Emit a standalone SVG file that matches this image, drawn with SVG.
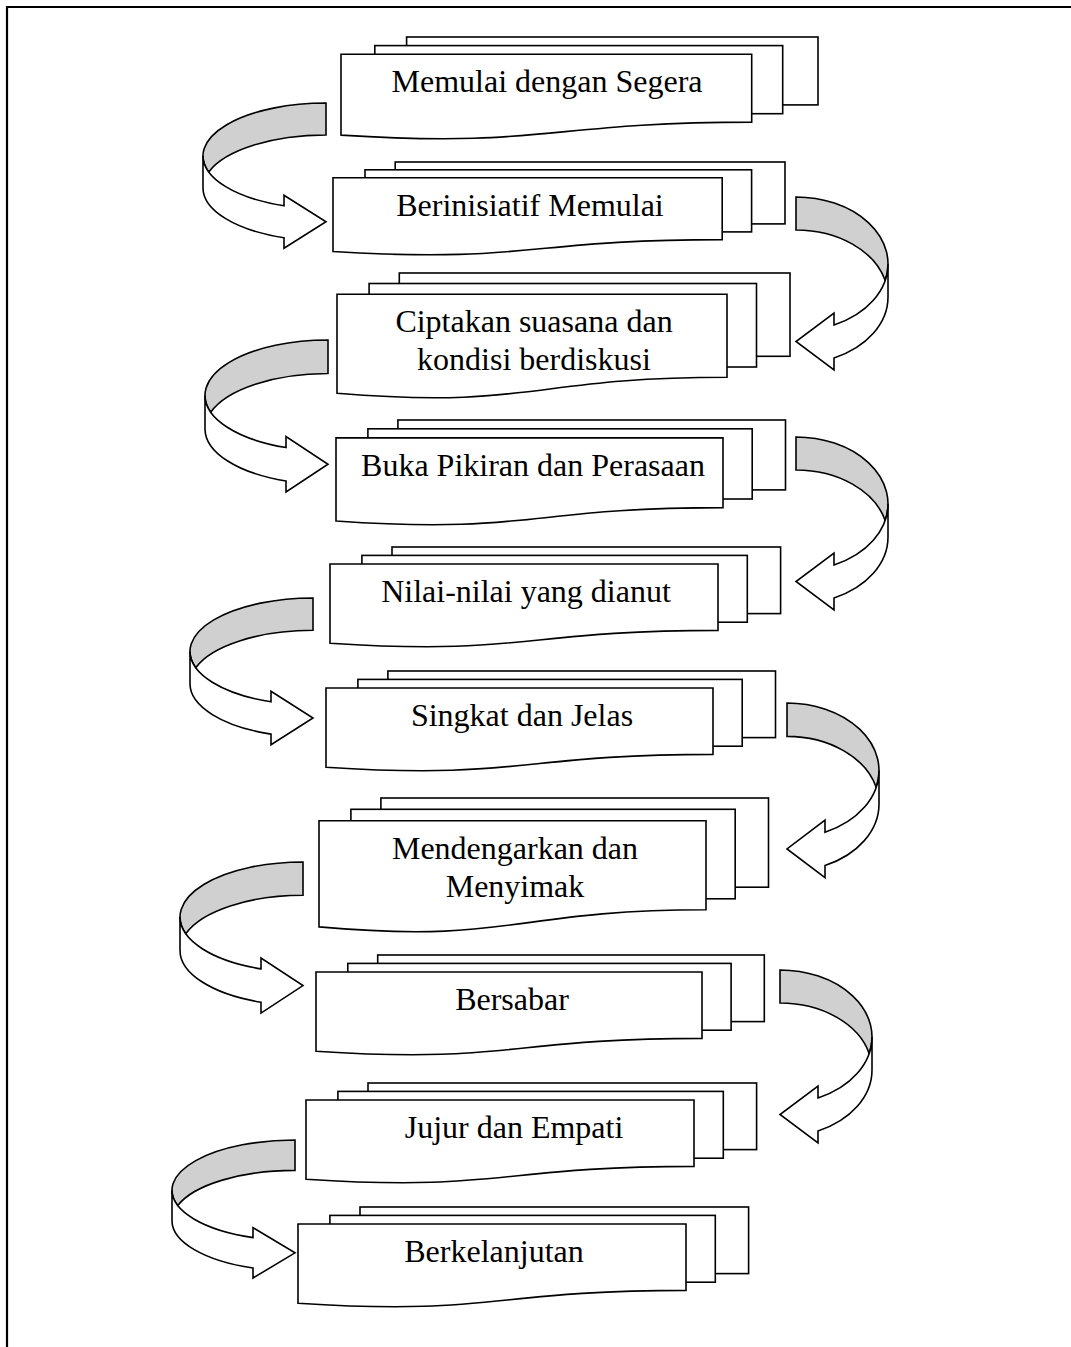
<svg xmlns="http://www.w3.org/2000/svg" width="1071" height="1347" viewBox="0 0 1071 1347">
<style>
.sheet{fill:#fff;stroke:#000;stroke-width:1.6}
.band{fill:#d0d0d0;stroke:#000;stroke-width:1.6;vector-effect:non-scaling-stroke;stroke-linejoin:miter}
.front{fill:#fff;stroke:#000;stroke-width:1.6;vector-effect:non-scaling-stroke;stroke-linejoin:miter}
.lbl{font-family:"Liberation Serif","Times New Roman",serif;font-size:32px;fill:#000;text-anchor:middle}
.frame{stroke:#000;stroke-width:2.2;fill:none}
</style>
<defs>
<g id="arrowRight">
<path class="band" d="M123,32 A123,53 0 0,0 5.73,69 A123,53 0 0,1 123,0 Z"/>
<path class="front" d="M0,53 A123,53 0 0,0 81,102.8 L81,92.3 L123,118.8 L81,145.3 L81,134.8 A123,53 0 0,1 0,85 Z"/>
</g>
<g id="arrowLeft">
<path class="band" d="M0,33 A92,67 0 0,1 89.17,83.5 A92,67 0 0,0 0,0 Z"/>
<path class="front" d="M92,67 A92,67 0 0,1 38,128 L38,116 L0,144.5 L38,173 L38,161 A92,67 0 0,0 92,100 Z"/>
</g>
</defs>
<rect width="1071" height="1347" fill="#fff"/>
<path class="frame" d="M7,1347 V7 H1071"/>

<g id="connectors">
<use href="#arrowRight" transform="translate(203,103)"/>
<use href="#arrowLeft" transform="translate(796,197)"/>
<use href="#arrowRight" transform="translate(205,340) scale(1,1.046)"/>
<use href="#arrowLeft" transform="translate(796,437)"/>
<use href="#arrowRight" transform="translate(190,598) scale(1,1.01)"/>
<use href="#arrowLeft" transform="translate(787,703) scale(1,1.01)"/>
<use href="#arrowRight" transform="translate(180,862) scale(1,1.04)"/>
<use href="#arrowLeft" transform="translate(780,970)"/>
<use href="#arrowRight" transform="translate(172,1140) scale(1,0.95)"/>
</g>

<g id="node1">
<rect class="sheet" x="406.6" y="37" width="411.4" height="67.9"/>
<rect class="sheet" x="374.8" y="45.6" width="407.9" height="68.1"/>
<path class="sheet" d="M341,54.3 H751.7 V122.1 C546.1,122.1 546.1,148.2 341,135.1 Z"/>
<text class="lbl" x="547" y="92.3">Memulai dengan Segera</text>
</g>

<g id="node2">
<rect class="sheet" x="395.2" y="162" width="389.8" height="61.9"/>
<rect class="sheet" x="365" y="169.8" width="386.6" height="62.1"/>
<path class="sheet" d="M333,177.8 H722.2 V239.6 C527.4,239.6 527.4,263.4 333,251.5 Z"/>
<text class="lbl" x="530" y="215.8">Berinisiatif Memulai</text>
</g>

<g id="node3">
<rect class="sheet" x="399.3" y="273" width="390.7" height="83.3"/>
<rect class="sheet" x="369.1" y="283.5" width="387.4" height="83.5"/>
<path class="sheet" d="M337,294.3 H727 V377.3 C531.8,377.3 531.8,409.3 337,393.3 Z"/>
<text class="lbl" x="534" y="332.3">Ciptakan suasana dan</text>
<text class="lbl" x="534" y="370.3">kondisi berdiskusi</text>
</g>

<g id="node4">
<rect class="sheet" x="397.9" y="420" width="387.6" height="69.9"/>
<rect class="sheet" x="367.9" y="428.8" width="384.3" height="70.2"/>
<path class="sheet" d="M336,437.9 H723 V507.6 C529.3,507.6 529.3,534.5 336,521 Z"/>
<text class="lbl" x="533" y="475.9">Buka Pikiran dan Perasaan</text>
</g>

<g id="node5">
<rect class="sheet" x="392" y="547" width="388.6" height="66.6"/>
<rect class="sheet" x="361.9" y="555.4" width="385.4" height="66.8"/>
<path class="sheet" d="M330,564 H718 V630.4 C523.8,630.4 523.8,656 330,643.2 Z"/>
<text class="lbl" x="526" y="602">Nilai-nilai yang dianut</text>
</g>

<g id="node6">
<rect class="sheet" x="387.9" y="671" width="387.6" height="66.6"/>
<rect class="sheet" x="357.9" y="679.4" width="384.3" height="66.8"/>
<path class="sheet" d="M326,688 H713 V754.4 C519.3,754.4 519.3,780 326,767.2 Z"/>
<text class="lbl" x="522" y="726">Singkat dan Jelas</text>
</g>

<g id="node7">
<rect class="sheet" x="380.9" y="798" width="387.6" height="89.2"/>
<rect class="sheet" x="350.9" y="809.3" width="384.3" height="89.5"/>
<path class="sheet" d="M319,820.8 H706 V909.8 C512.3,909.8 512.3,944.1 319,926.9 Z"/>
<text class="lbl" x="515" y="858.8">Mendengarkan dan</text>
<text class="lbl" x="515" y="896.8">Menyimak</text>
</g>

<g id="node8">
<rect class="sheet" x="377.7" y="955" width="386.6" height="66.6"/>
<rect class="sheet" x="347.8" y="963.4" width="383.3" height="66.8"/>
<path class="sheet" d="M316,972 H702 V1038.4 C508.8,1038.4 508.8,1064 316,1051.2 Z"/>
<text class="lbl" x="512" y="1010">Bersabar</text>
</g>

<g id="node9">
<rect class="sheet" x="368" y="1083" width="388.6" height="66.6"/>
<rect class="sheet" x="337.9" y="1091.4" width="385.4" height="66.8"/>
<path class="sheet" d="M306,1100 H694 V1166.4 C499.8,1166.4 499.8,1192 306,1179.2 Z"/>
<text class="lbl" x="514" y="1138">Jujur dan Empati</text>
</g>

<g id="node10">
<rect class="sheet" x="360" y="1207" width="388.6" height="66.6"/>
<rect class="sheet" x="329.9" y="1215.4" width="385.4" height="66.8"/>
<path class="sheet" d="M298,1224 H686 V1290.4 C491.8,1290.4 491.8,1316 298,1303.2 Z"/>
<text class="lbl" x="494" y="1262">Berkelanjutan</text>
</g>
</svg>
